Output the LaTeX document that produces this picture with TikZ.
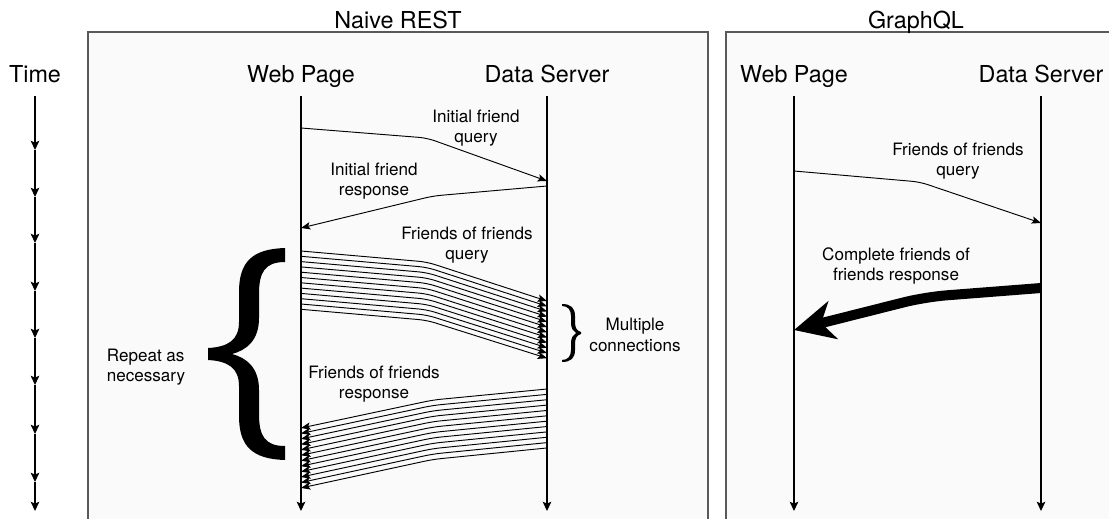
\documentclass[tikz,border=0pt]{standalone}
\usepackage{fontspec}
\setmainfont{TeX Gyre Heros}
\usetikzlibrary{arrows.meta,calc,positioning}

\tikzset{
  panel/.style={draw=black!65,line width=1.1pt,fill=black!2},
  hdr/.style={font=\fontsize{17.5}{20}\selectfont,anchor=base},
  lbl/.style={font=\fontsize{12.8}{15.5}\selectfont,align=center,inner sep=0pt},
  lifeline/.style={line width=0.8pt,-{Stealth[length=7pt,width=6.5pt,inset=1.5pt]}},
  msg/.style={line width=0.7pt,rounded corners=6pt,-{Stealth[length=7pt,width=5.5pt,inset=1.5pt]}},
  bigmsg/.style={line width=7.5pt,rounded corners=16pt,-{Stealth[length=30pt,width=29pt,inset=9pt]}},
}

\begin{document}
\begin{tikzpicture}[x=0.75pt,y=-0.75pt]
    \useasboundingbox (0,0) rectangle (1109,518);

    % the two panels
    \draw[panel] (88,32) rectangle (708,530);
    \draw[panel] (726,32) rectangle (1120,530);
    \node[hdr] (rest) at (398,28) {Naive REST};
    \node[hdr] (gql) at (916,28) {GraphQL};

    % time axis
    \node[hdr] (time) at (35,82) {Time};
    \coordinate (t0) at (35,96);
    \foreach \y [count=\i] in {150,197,243,291,338,385,434,482,511}
      \coordinate (t\i) at (35,\y);
    \foreach \i [remember=\i as \j (initially 0)] in {1,...,9}
      \draw[lifeline] (t\j) -- (t\i);

    % lifelines
    \node[hdr] (wpA) at (301,82) {Web Page};
    \node[hdr] (dsA) at (547,82) {Data Server};
    \node[hdr] (wpB) at (794,82) {Web Page};
    \node[hdr] (dsB) at (1041,82) {Data Server};
    \coordinate (wp1) at (301,96);
    \coordinate (ds1) at (547,96);
    \coordinate (wp2) at (794,96);
    \coordinate (ds2) at (1041,96);
    \foreach \c in {wp1,ds1,wp2,ds2}
      \draw[lifeline] (\c) -- ($(\c)+(0,415)$);

    % naive rest
    \draw[msg] ($(wp1)+(0,32)$) -- ($(wp1)+(126,42)$) -- ($(ds1)+(0,85)$);
    \node[lbl] (q1) at (476,128) {Initial friend\\query};
    \draw[msg] ($(ds1)+(0,90)$) -- ($(ds1)+(-114,100)$) -- ($(wp1)+(0,132)$);
    \node[lbl] (r1) at (374,181) {Initial friend\\response};

    \foreach \i in {0,...,11}
      \draw[msg] ($(wp1)+(0,155+5.3*\i)$) -- ($(wp1)+(126,166+5.3*\i)$) -- ($(ds1)+(0,205+5.2*\i)$);
    \node[lbl] (q2) at (467,245) {Friends of friends\\query};

    \foreach \i in {0,...,11}
      \draw[msg] ($(ds1)+(0,293+5.36*\i)$) -- ($(ds1)+(-114,304+5.4*\i)$) -- ($(wp1)+(0,332+5.45*\i)$);
    \node[lbl] (r2) at (374,384) {Friends of friends\\response};

    % small brace
    \fill (562,304) .. controls (571,304) and (575,308) .. (575,316) -- (575,322)
      .. controls (575,328) and (577,331) .. (581,332) -- (581,334)
      .. controls (577,335) and (575,338) .. (575,344) -- (575,350)
      .. controls (575,358) and (571,362) .. (562,362) -- (562,360)
      .. controls (568,360) and (571,356) .. (571,350) -- (571,343)
      .. controls (571,338) and (573,335) .. (576,333)
      .. controls (573,331) and (571,328) .. (571,323) -- (571,316)
      .. controls (571,310) and (568,306) .. (562,306) -- cycle;
    \node[lbl] (multi) at (635,335) {Multiple\\connections};

    % big brace
    \fill (285,248) .. controls (252,249) and (239,262) .. (239,292) -- (239,322)
      .. controls (239,340) and (228,347) .. (208,348) -- (208,360)
      .. controls (228,361) and (239,368) .. (239,386) -- (239,416)
      .. controls (239,446) and (252,459) .. (285,460) -- (285,446)
      .. controls (265,446) and (259,436) .. (259,414) -- (259,390)
      .. controls (259,368) and (247,358) .. (232,354)
      .. controls (247,350) and (259,340) .. (259,318) -- (259,294)
      .. controls (259,272) and (265,262) .. (285,262) -- cycle;
    \node[lbl,align=left] (rep) at (146,367) {Repeat as\\necessary};

    % graphql
    \draw[msg] ($(wp2)+(0,75)$) -- ($(wp2)+(126,86)$) -- ($(ds2)+(0,127)$);
    \node[lbl] (q3) at (958,161) {Friends of friends\\query};
    \draw[bigmsg] ($(ds2)+(0,192)$) -- ($(ds2)+(-116,201)$) -- ($(wp2)+(0,234)$);
    \node[lbl] (r3) at (896,266) {Complete friends of\\friends response};
\end{tikzpicture}
\end{document}
